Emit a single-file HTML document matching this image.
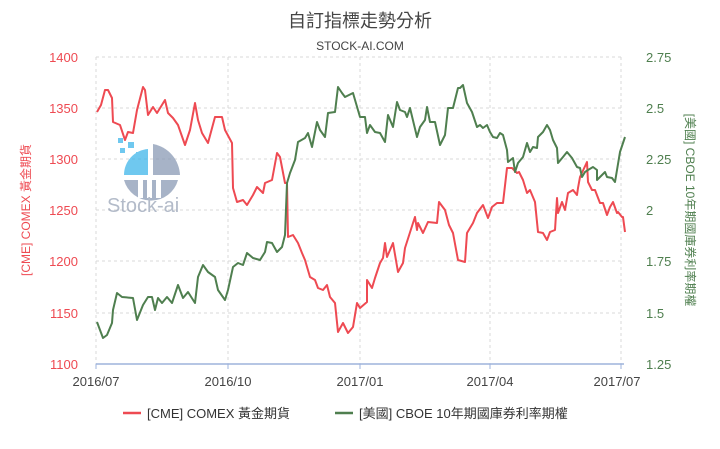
<!DOCTYPE html>
<html><head><meta charset="utf-8"><style>
body{margin:0;background:#fff;width:720px;height:444px;overflow:hidden;font-family:"Liberation Sans","Noto Sans CJK TC",sans-serif}
</style></head><body>
<svg width="720" height="444" xmlns="http://www.w3.org/2000/svg" font-family="Liberation Sans, Noto Sans CJK TC, sans-serif">
<text x="360" y="27" text-anchor="middle" font-size="18" fill="#444">自訂指標走勢分析</text>
<text x="360" y="50" text-anchor="middle" font-size="12" fill="#444">STOCK-AI.COM</text>
<g stroke="#d8d8d8" stroke-dasharray="3,3" stroke-width="1">
<line x1="96" x2="624" y1="57" y2="57"/><line x1="96" x2="624" y1="108" y2="108"/><line x1="96" x2="624" y1="159" y2="159"/><line x1="96" x2="624" y1="210" y2="210"/><line x1="96" x2="624" y1="261" y2="261"/><line x1="96" x2="624" y1="313" y2="313"/>
<line x1="96" x2="96" y1="57" y2="364"/><line x1="228" x2="228" y1="57" y2="364"/><line x1="360" x2="360" y1="57" y2="364"/><line x1="490" x2="490" y1="57" y2="364"/><line x1="621" x2="621" y1="57" y2="364"/>
</g>
<line x1="96" x2="624" y1="364" y2="364" stroke="#9db3dc" stroke-width="1.5"/>
<g stroke="#9db3dc"><line x1="96" x2="96" y1="364" y2="369"/><line x1="228" x2="228" y1="364" y2="369"/><line x1="360" x2="360" y1="364" y2="369"/><line x1="490" x2="490" y1="364" y2="369"/><line x1="621" x2="621" y1="364" y2="369"/></g>
<!-- logo -->
<g opacity="0.75">
<path d="M148,149 A26,26 0 0 0 124,175 L148,175 Z" fill="#3fb6ea"/>
<path d="M153,144 A33,33 0 0 1 180,175 L153,175 Z" fill="#8a9ab5"/>
<path d="M124,180 A28,28 0 0 0 178,180 Z" fill="#8a9ab5"/>
<rect x="138" y="176" width="5" height="22" fill="#fff"/><rect x="147" y="176" width="5" height="22" fill="#fff"/><rect x="156" y="176" width="5" height="22" fill="#fff"/>
<rect x="118" y="138" width="5" height="5" fill="#3fb6ea"/><rect x="128" y="142" width="6" height="6" fill="#3fb6ea"/><rect x="120" y="148" width="5" height="5" fill="#3fb6ea"/><rect x="136" y="152" width="5" height="5" fill="#3fb6ea"/>
<text x="107" y="212" font-size="20" fill="#9aa5b8">Stock-ai</text>
</g>
<polyline fill="none" stroke="#ee4a52" stroke-width="2" stroke-linejoin="round" points="97,112 101,105 105,90 108,90 112,98 113,122 120,125 125,140 128,132 133,133 137,110 143,87 145,90 148,115 153,107 157,113 165,100 168,113 173,118 178,125 185,145 190,130 195,103 198,120 202,133 208,143 215,117 222,117 225,130 232,143 233,188 237,202 243,200 247,205 253,195 257,187 263,193 265,183 272,180 277,153 280,157 285,183 287,183 288,237 293,235 298,243 302,253 305,260 310,277 315,280 318,288 323,290 327,285 330,297 335,303 338,332 343,323 348,333 353,327 357,303 360,308 367,302 367,280 372,288 375,278 380,263 383,258 385,243 387,257 393,243 398,272 403,263 405,248 413,223 415,217 417,230 418,223 423,233 428,222 437,223 439,202 445,210 449,225 453,233 458,260 465,262 467,233 473,223 477,213 483,205 488,218 492,207 497,203 503,203 507,168 512,168 517,173 519,172 523,180 527,193 530,190 535,202 538,232 543,233 547,240 550,232 555,230 557,198 558,213 562,202 565,210 568,193 573,190 577,195 578,188 580,177 587,162 588,182 592,190 595,190 600,203 603,203 607,215 610,207 613,202 617,213 618,212 622,217 623,217 625,232"/>
<polyline fill="none" stroke="#4f7f4f" stroke-width="2" stroke-linejoin="round" points="97,322 103,338 107,335 112,323 113,310 117,293 122,297 133,298 137,320 143,305 148,297 152,297 155,310 158,298 162,303 167,297 172,303 178,285 183,298 188,292 195,303 198,277 203,265 208,272 215,277 218,290 225,300 228,290 233,267 238,263 243,265 247,253 253,258 260,260 265,252 267,242 272,243 277,252 282,247 285,235 287,183 290,173 295,160 298,142 305,138 308,133 312,147 317,122 320,130 325,137 328,113 335,112 338,87 342,93 345,97 353,93 360,117 365,117 367,133 370,125 375,132 380,133 385,142 388,115 393,127 397,102 400,110 405,112 407,117 410,108 417,137 420,127 425,120 427,107 430,122 435,122 440,145 445,135 448,108 453,108 458,88 460,88 463,85 467,103 472,112 477,127 480,125 483,128 487,125 490,132 493,137 497,138 500,133 503,135 507,150 508,162 513,158 515,172 518,163 523,157 527,143 530,152 533,147 537,148 538,137 543,132 547,125 550,130 553,140 557,148 558,163 563,157 567,152 572,158 577,167 580,168 582,177 585,172 588,170 593,167 597,170 597,180 602,175 605,172 607,177 612,178 615,182 617,170 620,152 625,137"/>
<g font-size="13" fill="#ee4a52" text-anchor="end">
<text x="78" y="62">1400</text><text x="78" y="113">1350</text><text x="78" y="164">1300</text><text x="78" y="215">1250</text><text x="78" y="266">1200</text><text x="78" y="318">1150</text><text x="78" y="369">1100</text>
</g>
<g font-size="13" fill="#4f7f4f">
<text x="646" y="62">2.75</text><text x="646" y="113">2.5</text><text x="646" y="164">2.25</text><text x="646" y="215">2</text><text x="646" y="266">1.75</text><text x="646" y="318">1.5</text><text x="646" y="369">1.25</text>
</g>
<g font-size="13" fill="#444" text-anchor="middle">
<text x="96" y="386">2016/07</text><text x="228" y="386">2016/10</text><text x="360" y="386">2017/01</text><text x="490" y="386">2017/04</text><text x="617" y="386">2017/07</text>
</g>
<text transform="translate(30,210) rotate(-90)" text-anchor="middle" font-size="12" fill="#ee4a52">[CME] COMEX 黃金期貨</text>
<text transform="translate(686,210) rotate(90)" text-anchor="middle" font-size="12" fill="#4f7f4f">[美國] CBOE 10年期國庫券利率期權</text>
<line x1="123" x2="141" y1="413" y2="413" stroke="#ee4a52" stroke-width="2.5"/>
<text x="147" y="418" font-size="13" fill="#333">[CME] COMEX 黃金期貨</text>
<line x1="335" x2="353" y1="413" y2="413" stroke="#4f7f4f" stroke-width="2.5"/>
<text x="359" y="418" font-size="13" fill="#333">[美國] CBOE 10年期國庫券利率期權</text>
</svg>
</body></html>
